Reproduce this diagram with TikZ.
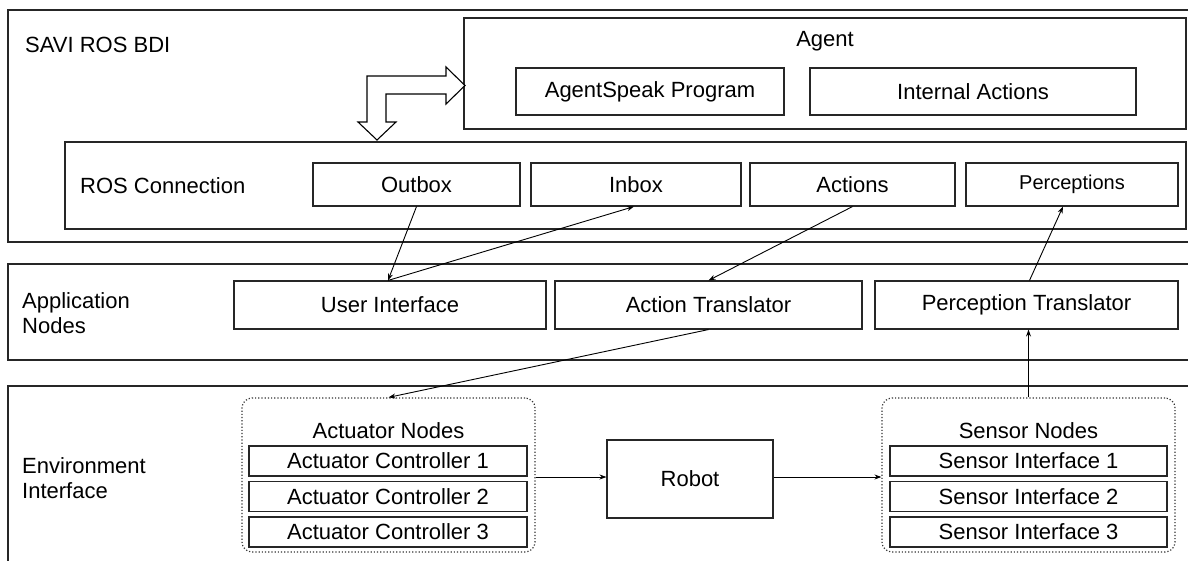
\documentclass[tikz,border=0pt]{standalone}
\usepackage{fontspec}
\setmainfont{Liberation Sans}
\usetikzlibrary{arrows.meta}
\begin{document}
\begin{tikzpicture}[x=1pt,y=-1pt,
  frame/.style={draw=black!85,line width=1.1pt,rectangle,inner sep=0pt},
  box/.style={frame,font=\fontsize{22}{25}\selectfont},
  group/.style={draw=black!80,line width=1.2pt,dotted,rounded corners=10pt,inner sep=0pt},
  lbl/.style={font=\fontsize{22}{25}\selectfont,anchor=west,align=left,inner sep=0pt},
  link/.style={draw=black,line width=0.9pt,-{Stealth[length=7pt,width=5pt]}},
  hollow/.style={draw=black,line width=1.1pt,fill=white,line join=miter}]
\useasboundingbox (0,0) rectangle (1188,560);

% layer bands
\node[frame,minimum width=1200pt,minimum height=232pt] (savi) at (608,126) {};
\node[frame,minimum width=1200pt,minimum height=96pt] (app) at (608,312) {};
\node[frame,minimum width=1200pt,minimum height=200pt] (env) at (608,486) {};

\node[lbl] (savilbl) at (25,45) {SAVI ROS BDI};
\node[lbl] (applbl) at (22,313) {Application\\Nodes};
\node[lbl] (envlbl) at (22,478) {Environment\\Interface};

% agent
\node[frame,minimum width=722pt,minimum height=111pt] (agent) at (825,73.5) {};
\node[font=\fontsize{22}{25}\selectfont] (agentlbl) at (825,41) {Agent};
\node[box,minimum width=268pt,minimum height=47pt] (asp) at (650,91.5) {AgentSpeak Program};
\node[box,minimum width=326pt,minimum height=47pt] (ia) at (973,91.5) {Internal Actions};

% ROS connection
\node[frame,minimum width=1121pt,minimum height=87pt] (ros) at (625.5,185.5) {};
\node[lbl] (roslbl) at (80,186) {ROS Connection};
\node[box,minimum width=207pt,minimum height=43pt] (outbox) at (416.5,184.5) {Outbox};
\node[box,minimum width=210pt,minimum height=43pt] (inbox) at (636,184.5) {Inbox};
\node[box,minimum width=205pt,minimum height=43pt] (actions) at (852.5,184.5) {Actions};
\node[box,minimum width=212pt,minimum height=43pt,font=\fontsize{20}{23}\selectfont] (perc) at (1072,184.5) {Perceptions};

% hollow double-bend arrow between agent and ROS connection
\draw[hollow] (358,122) -- (367,122) -- (367,76) -- (446,76) -- (446,67) -- (465,85.5)
  -- (446,104) -- (446,94) -- (386,94) -- (386,122) -- (396,122) -- (377,140) -- cycle;

% application nodes
\node[box,minimum width=312pt,minimum height=48pt] (ui) at (390,305) {User Interface};
\node[box,minimum width=307pt,minimum height=48pt] (at) at (708.5,305) {Action Translator};
\node[box,minimum width=303pt,minimum height=48pt] (pt) at (1026.5,305) {Perception Translator};

% environment interface
\node[group,minimum width=293pt,minimum height=154pt] (actg) at (388.5,475) {};
\node[font=\fontsize{22}{25}\selectfont] (actlbl) at (388.5,431) {Actuator Nodes};
\node[box,minimum width=278pt,minimum height=30pt] (ac1) at (388,461) {Actuator Controller 1};
\node[box,minimum width=278pt,minimum height=30pt] (ac2) at (388,496.5) {Actuator Controller 2};
\node[box,minimum width=278pt,minimum height=30pt] (ac3) at (388,532) {Actuator Controller 3};

\node[box,minimum width=166pt,minimum height=78pt] (robot) at (690,479) {Robot};

\node[group,minimum width=293pt,minimum height=154pt] (sensg) at (1028.5,475) {};
\node[font=\fontsize{22}{25}\selectfont] (senslbl) at (1028.5,431) {Sensor Nodes};
\node[box,minimum width=277pt,minimum height=30pt] (si1) at (1028.5,461) {Sensor Interface 1};
\node[box,minimum width=277pt,minimum height=30pt] (si2) at (1028.5,496.5) {Sensor Interface 2};
\node[box,minimum width=277pt,minimum height=30pt] (si3) at (1028.5,532) {Sensor Interface 3};

% connectors
\draw[link] (outbox.south) -- ([xshift=-2pt]ui.north);
\draw[link] ([xshift=-2pt]ui.north) -- ([xshift=-2pt]inbox.south);
\draw[link] (actions.south) -- (at.north);
\draw[link] ([xshift=3pt]pt.north) -- ([xshift=-9pt]perc.south);
\draw[link] (at.south) -- (actg.north);
\draw[link] (actg.east |- 0,477) -- (robot.west |- 0,477);
\draw[link] (robot.east |- 0,477) -- (sensg.west |- 0,477);
\draw[link] (sensg.north) -- (sensg.north |- pt.south);
\end{tikzpicture}
\end{document}
